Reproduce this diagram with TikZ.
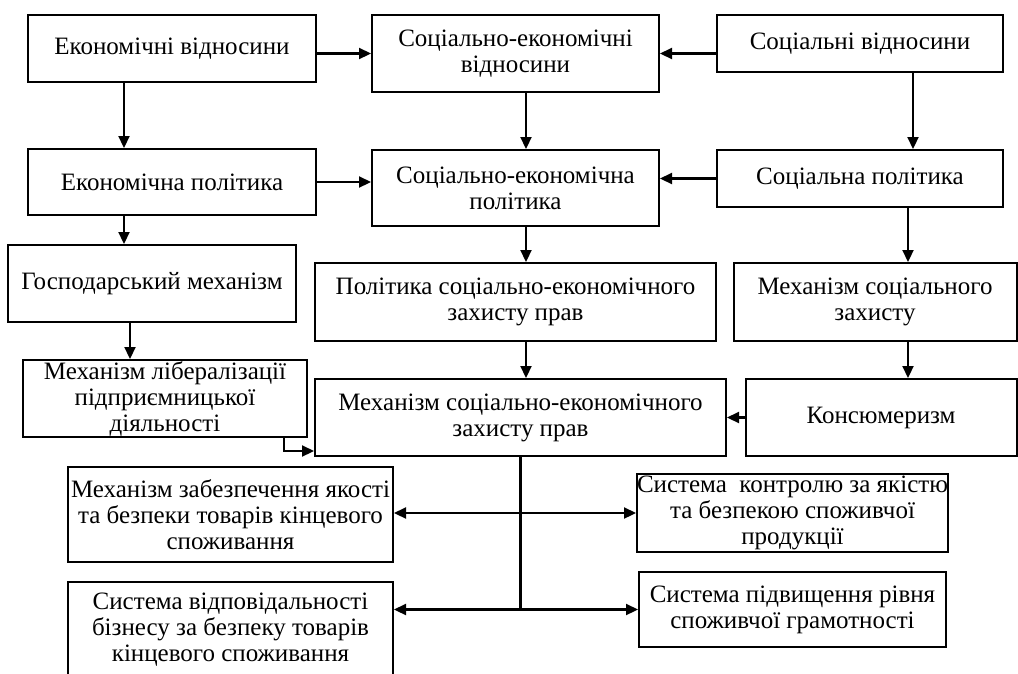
\documentclass[tikz,border=0pt]{standalone}
\usepackage{fontspec}
\setmainfont{Liberation Serif}
\usetikzlibrary{arrows.meta}
\tikzset{
  box/.style={draw, line width=2pt, align=center, inner sep=0pt, font=\fontsize{25}{26}\selectfont},
  arr/.style={line width=2.2pt, -{Triangle[length=12pt,width=11pt]}},
  ln/.style={line width=2.2pt}
}
\begin{document}
\begin{tikzpicture}[x=1pt,y=-1pt]
\useasboundingbox (0,0) rectangle (1018,673);
\clip (0,0) rectangle (1018,673);
\node[box, minimum width=288pt, minimum height=67pt] (ev) at (172,48.5) {Економічні відносини};
\node[box, minimum width=287pt, minimum height=77pt] (sev) at (515.5,53.5) {Соціально-економічні\\відносини};
\node[box, minimum width=286pt, minimum height=57pt] (sv) at (860,43.5) {Соціальні відносини};
\node[box, minimum width=288pt, minimum height=66pt] (ep) at (172,182) {Економічна політика};
\node[box, minimum width=287pt, minimum height=76pt] (sep) at (515.5,188) {Соціально-економічна\\політика};
\node[box, minimum width=286pt, minimum height=57pt] (sp) at (860,178.5) {Соціальна політика};
\node[box, minimum width=288pt, minimum height=77pt] (gm) at (152,283.5) {Господарський механізм};
\node[box, minimum width=401pt, minimum height=78pt] (psezp) at (515.5,302) {Політика соціально-економічного\\захисту прав};
\node[box, minimum width=283pt, minimum height=78pt] (msz) at (875,302) {Механізм соціального\\захисту};
\node[box, minimum width=284pt, minimum height=77pt] (ml) at (165,398.5) {Механізм лібералізації\\підприємницької\\діяльності};
\node[box, minimum width=411pt, minimum height=77pt] (msezp) at (520.5,417.5) {Механізм соціально-економічного\\захисту прав};
\node[box, minimum width=271pt, minimum height=77pt] (kons) at (881,417.5) {Консюмеризм};
\node[box, minimum width=325pt, minimum height=95pt] (mzb) at (230.5,514.5) {Механізм забезпечення якості\\та безпеки товарів кінцевого\\споживання};
\node[box, minimum width=307pt, minimum height=78pt] (skb) at (792.5,513) {Система\ \ контролю за якістю\\та безпекою споживчої\\продукції};
\node[box, minimum width=325pt, minimum height=96pt] (svb) at (230.5,630) {Система відповідальності\\бізнесу за безпеку товарів\\кінцевого споживання};
\node[box, minimum width=307pt, minimum height=75pt] (spr) at (792.5,609.5) {Система підвищення рівня\\споживчої грамотності};
% horizontal arrows
\draw[arr] (ev.east |- sev.west) -- (sev.west);
\draw[arr] (sv.west |- sev.east) -- (sev.east);
\draw[arr] (ep.east) -- (sep.west |- ep.east);
\draw[arr] (sp.west) -- (sep.east |- sp.west);
\draw[arr] (kons.west) -- (msezp.east |- kons.west);
% vertical arrows
\draw[arr] ([xshift=-48pt]ev.south) -- ([xshift=-48pt]ev.south |- ep.north);
\draw[arr] ([xshift=-48pt]ep.south) -- ([xshift=-48pt]ep.south |- gm.north);
\draw[arr] ([xshift=-22pt]gm.south) -- ([xshift=-22pt]gm.south |- ml.north);
\draw[arr] ([xshift=10.5pt]sev.south) -- ([xshift=10.5pt]sev.south |- sep.north);
\draw[arr] ([xshift=10.5pt]sep.south) -- ([xshift=10.5pt]sep.south |- psezp.north);
\draw[arr] ([xshift=10.5pt]psezp.south) -- ([xshift=10.5pt]psezp.south |- msezp.north);
\draw[arr] ([xshift=53pt]sv.south) -- ([xshift=53pt]sv.south |- sp.north);
\draw[arr] ([xshift=48pt]sp.south) -- ([xshift=48pt]sp.south |- msz.north);
\draw[arr] ([xshift=33pt]msz.south) -- ([xshift=33pt]msz.south |- kons.north);
% elbow from ml
\draw[arr] ([xshift=-24pt]ml.south east) |- ([yshift=6pt]msezp.south west);
% bottom distribution
\draw[ln] (msezp.south) -- (msezp.south |- spr.west);
\draw[arr] (msezp.south |- skb.west) -- (skb.west);
\draw[arr] (msezp.south |- skb.west) -- (mzb.east |- skb.west);
\draw[arr] (msezp.south |- spr.west) -- (spr.west);
\draw[arr] (msezp.south |- spr.west) -- (svb.east |- spr.west);
\end{tikzpicture}
\end{document}
